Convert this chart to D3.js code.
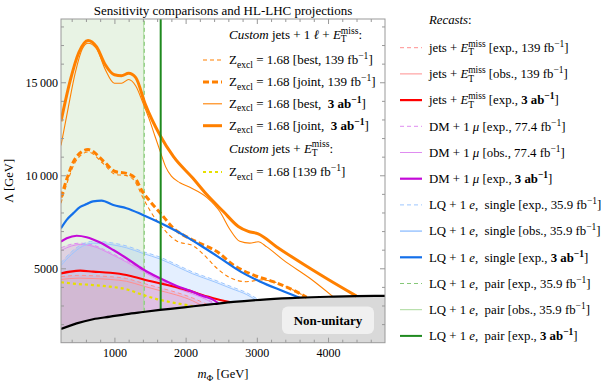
<!DOCTYPE html>
<html><head><meta charset="utf-8">
<script src="https://cdn.jsdelivr.net/npm/d3@7"></script>
<style>html,body{margin:0;padding:0;background:#fff;} text{white-space:pre;}</style>
</head><body><svg id="c" width="609" height="386"></svg>
<script>
// ---------------- DATA (m_Phi [GeV], Lambda [GeV]) ----------------
const xMajorTicks = [1000, 2000, 3000, 4000];
const yMajorTicks = [5000, 10000, 15000];

const unitarityBound = [[250,1740],[470,2040],[700,2260],[940,2400],[1170,2540],[1400,2650],[1640,2760],[1880,2860],[2110,2960],[2400,3080],[2670,3190],[3140,3330],[3600,3420],[4070,3475],[4400,3505],[4800,3520]];

const customJoint3ab = [[250,12900],[380,15100],[500,16600],[630,17250],[750,16900],[870,15950],[1000,15400],[1100,15350],[1200,15480],[1300,15250],[1430,13850],[1640,12150],[1830,11000],[2100,9850],[2300,8950],[2530,8050],[2740,7250],[2880,6980],[3020,6850],[3280,6150],[3600,5350],[3980,4450],[4400,3505]];
const customBest3ab = [[250,11600],[350,13600],[450,15500],[550,16800],[630,17100],[750,16800],[870,15700],[1000,14950],[1100,14950],[1200,15150],[1300,14800],[1400,13900],[1500,12900],[1570,12100],[1650,11200],[1720,10450],[1800,9950],[1920,9600],[2060,9350],[2300,8800],[2480,8050],[2620,7100],[2760,6450],[2900,6350],[3020,6430],[3140,6150],[3370,5450],[3750,4450],[4070,3475]];
const customJoint139 = [[250,8800],[350,10000],[450,10900],[630,11380],[850,10750],[1010,10200],[1170,10100],[1290,9850],[1390,9150],[1500,8600],[1650,7950],[1830,7150],[2060,6600],[2200,6340],[2440,5900],[2670,5180],[2950,4640],[3230,4280],[3510,3830],[3700,3435]];
const customBest139 = [[250,8500],[350,9750],[450,10700],[630,11250],[850,10600],[1010,10050],[1170,9980],[1290,9650],[1400,8800],[1500,8100],[1650,7300],[1880,6450],[2110,6200],[2250,5750],[2440,5000],[2620,4500],[2850,4280],[3050,4370],[3230,4280],[3510,3830],[3700,3435]];
const customJetsMet139 = [[250,4250],[470,4160],[700,4100],[940,4010],[1170,3870],[1400,3570],[1640,3300],[1875,3120],[2110,2960]];

const jetsMetExp139 = [[250,4550],[500,4620],[700,4600],[940,4550],[1170,4450],[1400,4200],[1640,3950],[1875,3700],[2100,3400],[2300,3060]];
const jetsMetObs139 = [[250,4400],[500,4470],[700,4450],[940,4400],[1170,4300],[1400,4050],[1640,3800],[1875,3560],[2100,3250],[2220,3010]];
const jetsMetExp3ab = [[250,4730],[380,4820],[520,4870],[700,4820],[940,4760],[1170,4640],[1400,4410],[1640,4190],[1875,3980],[2100,3740],[2200,3600],[2390,3390],[2620,3180]];

const dmMuExp77 = [[250,6100],[400,6300],[520,6350],[700,6250],[940,5850],[1170,5400],[1400,4900],[1640,4400],[1875,3980],[2100,3680],[2300,3350],[2420,3090]];
const dmMuObs77 = [[250,5950],[400,6200],[520,6280],[700,6180],[940,5780],[1170,5330],[1400,4830],[1640,4330],[1875,3920],[2100,3620],[2300,3300],[2400,3080]];
const dmMuExp3ab = [[250,6430],[330,6610],[470,6750],[610,6670],[800,6380],[985,5980],[1170,5540],[1400,4950],[1640,4460],[1875,4050],[2100,3740],[2200,3570],[2390,3300],[2460,3110]];

const lqSingleExp36 = [[250,5300],[400,5900],[550,6300],[700,6450],[900,6400],[1170,6200],[1400,5900],[1640,5600],[1900,5150],[2100,4800],[2400,4380],[2650,4000],[2860,3680],[3020,3320]];
const lqSingleObs36 = [[250,5150],[400,5750],[550,6180],[700,6350],[900,6300],[1170,6100],[1400,5800],[1640,5500],[1900,5050],[2100,4700],[2400,4280],[2650,3900],[2860,3580],[2980,3310]];
const lqSingleExp3ab = [[250,7150],[330,7600],[420,7950],[520,8300],[610,8450],[700,8600],[820,8640],[985,8400],[1170,8230],[1400,7870],[1640,7450],[1875,6990],[2060,6580],[2200,6250],[2480,5560],[2760,4850],[3050,4280],[3330,3830],[3600,3420]];

const lqPairExp36 = 1420;   // vertical mass limits
const lqPairObs36 = 1412;
const lqPairExp3ab = 1650;

const X_DOMAIN = [250, 4800];
const Y_DOMAIN = [1000, 18400];

// ---------------- SETUP ----------------
const SERIF = "'Liberation Serif','Times New Roman',Times,serif";
const W = 609, H = 386;
const M = {left: 61, right: 385, top: 19, bottom: 342.7};
const FS = 13, FSR = 12.8;
const svg = d3.select('#c');
svg.append('rect').attr('width', W).attr('height', H).attr('fill', '#fff');

const x = d3.scaleLinear().domain(X_DOMAIN).range([M.left, M.right]);
const y = d3.scaleLinear().domain(Y_DOMAIN).range([M.bottom, M.top]);
const blackAt = d3.scaleLinear().domain(unitarityBound.map(d => d[0])).range(unitarityBound.map(d => d[1]));

svg.append('clipPath').attr('id', 'clip').append('rect')
  .attr('x', M.left).attr('y', M.top).attr('width', M.right - M.left).attr('height', M.bottom - M.top);
const plot = svg.append('g').attr('clip-path', 'url(#clip)');

const line = d3.line().x(d => x(d[0])).y(d => y(d[1])).curve(d3.curveMonotoneX);
const area = d3.area().x(d => x(d[0])).y0(y(Y_DOMAIN[0])).y1(d => y(d[1])).curve(d3.curveMonotoneX);

const ORANGE = '#ff8000', YELLOW = '#e6df00', RED = '#ff0000', MAG = '#c40ad8', BLUE = '#1470ea', GREEN = '#1f8a1f';
const RED_L = '#ff8f8f', MAG_L = '#df8cf0', BLUE_L = '#9cc6ff', GREEN_L = '#86c878', GREEN_L2 = '#a9d99b';

// fills
plot.append('path').datum([[X_DOMAIN[0], Y_DOMAIN[1]], [lqPairObs36, Y_DOMAIN[1]]])
  .attr('d', d3.area().x(d => x(d[0])).y0(y(Y_DOMAIN[0])).y1(d => y(d[1])))
  .attr('fill', '#74b861').attr('fill-opacity', 0.17);
plot.append('path').datum(lqSingleExp36).attr('d', area).attr('fill', '#5a9eff').attr('fill-opacity', 0.16);
plot.append('path').datum(dmMuExp77).attr('d', area).attr('fill', '#c050d8').attr('fill-opacity', 0.2);
plot.append('path').datum(jetsMetExp139).attr('d', area).attr('fill', '#ff5a5a').attr('fill-opacity', 0.12);

// non-unitary region
plot.append('path').datum(unitarityBound).attr('d', area).attr('fill', '#d9d9d9');

function draw(data, color, w, dash) {
  plot.append('path').datum(data).attr('d', line).attr('fill', 'none')
    .attr('stroke', color).attr('stroke-width', w).attr('stroke-dasharray', dash || null)
    .attr('stroke-linejoin', 'round');
}
function vline(m, color, w, dash) {
  draw([[m, blackAt(m)], [m, Y_DOMAIN[1]]], color, w, dash);
}

// recasts (thin)
draw(jetsMetObs139, RED_L, 1);
draw(jetsMetExp139, RED_L, 1, '4,3');
draw(dmMuObs77, MAG_L, 1);
draw(dmMuExp77, MAG_L, 1, '4,3');
draw(lqSingleObs36, BLUE_L, 1);
draw(lqSingleExp36, BLUE_L, 1, '4,3');
vline(lqPairObs36, GREEN_L2, 1);
vline(lqPairExp36, GREEN_L, 1, '4,3');
// custom
draw(customJetsMet139, YELLOW, 2.2, '3,3');
draw(customBest139, ORANGE, 1.1, '4,3');
draw(customJoint139, ORANGE, 3, '6,3');
draw(customBest3ab, ORANGE, 1.1);
draw(customJoint3ab, ORANGE, 3);
// 3ab recasts
draw(jetsMetExp3ab, RED, 2.2);
draw(dmMuExp3ab, MAG, 2.2);
draw(lqSingleExp3ab, BLUE, 2.2);
vline(lqPairExp3ab, GREEN, 2);
// unitarity line
draw(unitarityBound, '#000', 2.2);

// Non-unitary label
svg.append('rect').attr('x', 282).attr('y', 306.5).attr('width', 92).attr('height', 27.5).attr('rx', 6)
  .attr('fill', '#f0f0f0');
svg.append('text').attr('x', 328).attr('y', 324.5).attr('text-anchor', 'middle')
  .attr('font-family', SERIF).attr('font-size', 13).attr('font-weight', 'bold').text('Non-unitary');

// ---------------- AXES ----------------
const xMinor = d3.range(400, 4800, 200).filter(v => !xMajorTicks.includes(v));
const yMinor = d3.range(2000, 18400, 1000).filter(v => !yMajorTicks.includes(v));
const fmt = v => v >= 10000 ? d3.format(',')(v).replace(',', '\u2009') : String(v);
const AX = '#999';
function styleAxis(g) {
  g.attr('font-family', SERIF).attr('font-size', 12);
  g.selectAll('.domain').remove();
  g.selectAll('line').attr('stroke', AX);
  g.selectAll('text').attr('fill', '#000');
}
svg.append('g').attr('transform', `translate(0,${M.bottom})`)
  .call(d3.axisBottom(x).tickValues(xMajorTicks).tickSizeInner(-5).tickSizeOuter(0).tickPadding(6).tickFormat(fmt)).call(styleAxis);
svg.append('g').attr('transform', `translate(0,${M.bottom})`)
  .call(d3.axisBottom(x).tickValues(xMinor).tickSize(-3).tickFormat('')).call(styleAxis);
svg.append('g').attr('transform', `translate(0,${M.top})`)
  .call(d3.axisTop(x).tickValues(xMajorTicks).tickSize(-5).tickFormat('')).call(styleAxis);
svg.append('g').attr('transform', `translate(0,${M.top})`)
  .call(d3.axisTop(x).tickValues(xMinor).tickSize(-3).tickFormat('')).call(styleAxis);
svg.append('g').attr('transform', `translate(${M.left},0)`)
  .call(d3.axisLeft(y).tickValues(yMajorTicks).tickSizeInner(-5).tickSizeOuter(0).tickPadding(3).tickFormat(fmt)).call(styleAxis);
svg.append('g').attr('transform', `translate(${M.left},0)`)
  .call(d3.axisLeft(y).tickValues(yMinor).tickSize(-3).tickFormat('')).call(styleAxis);
svg.append('g').attr('transform', `translate(${M.right},0)`)
  .call(d3.axisRight(y).tickValues(yMajorTicks).tickSize(-5).tickFormat('')).call(styleAxis);
svg.append('g').attr('transform', `translate(${M.right},0)`)
  .call(d3.axisRight(y).tickValues(yMinor).tickSize(-3).tickFormat('')).call(styleAxis);
svg.append('rect').attr('x', M.left).attr('y', M.top).attr('width', M.right - M.left).attr('height', M.bottom - M.top)
  .attr('fill', 'none').attr('stroke', AX).attr('stroke-width', 1);

// ---------------- RICH TEXT ----------------
function rich(sel, px, py, segs, size, anchor) {
  const t = sel.append('text').attr('x', px).attr('y', py).attr('font-size', size)
    .attr('font-family', SERIF).attr('fill', '#000');
  if (anchor) t.attr('text-anchor', anchor);
  const small = size * 0.74;
  let cur = 0;
  segs.forEach(s => {
    if (typeof s === 'string') { t.append('tspan').attr('dy', -cur).text(s); cur = 0; return; }
    if (s.sub !== undefined && s.sup !== undefined) {
      const a = t.append('tspan').attr('dy', 3.4 - cur).attr('font-size', small).text(s.sub);
      cur = 3.4;
      const wT = a.node().getComputedTextLength();
      t.append('tspan').attr('dx', -wT).attr('dy', -5.4 - cur).attr('font-size', small).text(s.sup);
      cur = -5.4;
      return;
    }
    if (s.sub !== undefined) {
      t.append('tspan').attr('dy', 3.4 - cur).attr('font-size', small).text(s.sub);
      cur = 3.4; return;
    }
    if (s.sup !== undefined) {
      const ts = t.append('tspan').attr('dy', -5 - cur).attr('font-size', small).text(s.sup);
      if (s.b) ts.attr('font-weight', 'bold');
      cur = -5; return;
    }
    if (s.i !== undefined) { t.append('tspan').attr('dy', -cur).attr('font-style', 'italic').text(s.i); cur = 0; return; }
    if (s.b !== undefined) { t.append('tspan').attr('dy', -cur).attr('font-weight', 'bold').text(s.b); cur = 0; return; }
  });
  return t;
}

// Title and axis labels
svg.append('text').attr('x', (M.left + M.right) / 2).attr('y', 15).attr('text-anchor', 'middle')
  .attr('font-family', SERIF).attr('font-size', 13).text('Sensitivity comparisons and HL-LHC projections');
rich(svg, (M.left + M.right) / 2, 378, [{i: 'm'}, {sub: 'Φ'}, ' [GeV]'], 12.5, 'middle');
svg.append('text').attr('transform', `translate(13,${(M.top + M.bottom) / 2}) rotate(-90)`).attr('text-anchor', 'middle')
  .attr('font-family', SERIF).attr('font-size', 12.5).text('Λ [GeV]');

// ---------------- INNER LEGEND ----------------
const innerTitle1 = [{i: 'Custom'}, ' jets + 1 ', {i: 'ℓ'}, ' + ', {i: 'E'}, {sub: 'T', sup: 'miss'}, ':'];
const innerTitle2 = [{i: 'Custom'}, ' jets + ', {i: 'E'}, {sub: 'T', sup: 'miss'}, ':'];
const innerLabels = [
  ['Z', {sub: 'excl'}, ' = 1.68 [best, 139 fb', {sup: '−1'}, ']'],
  ['Z', {sub: 'excl'}, ' = 1.68 [joint, 139 fb', {sup: '−1'}, ']'],
  ['Z', {sub: 'excl'}, ' = 1.68 [best,  ', {b: '3 ab'}, {sup: '−1', b: true}, ']'],
  ['Z', {sub: 'excl'}, ' = 1.68 [joint,  ', {b: '3 ab'}, {sup: '−1', b: true}, ']'],
];
const innerLabel2 = ['Z', {sub: 'excl'}, ' = 1.68 [139 fb', {sup: '−1'}, ']'];
const innerStyles = [
  {c: ORANGE, w: 1.1, d: '4,3'}, {c: ORANGE, w: 3, d: '6,3'}, {c: ORANGE, w: 1.1}, {c: ORANGE, w: 3}
];
const LG = svg.append('g');
function sample(g, x0, x1, yy, st) {
  g.append('line').attr('x1', x0).attr('x2', x1).attr('y1', yy).attr('y2', yy)
    .attr('stroke', st.c).attr('stroke-width', st.w).attr('stroke-dasharray', st.d || null);
}
rich(LG, 229, 39, innerTitle1, FS);
innerLabels.forEach((lab, i) => {
  const yy = 60 + i * 21.9;
  sample(LG, 203, 222, yy, innerStyles[i]);
  rich(LG, 229, yy + 4.2, lab, FS);
});
rich(LG, 229, 152.5, innerTitle2, FS);
sample(LG, 203, 222, 172, {c: YELLOW, w: 2.2, d: '3,3'});
rich(LG, 229, 176.2, innerLabel2, FS);

// ---------------- RIGHT LEGEND ----------------
const E = [{i: 'E'}, {sub: 'T', sup: 'miss'}];
const recastLabels = [
  ['jets + ', ...E, ' [exp., 139 fb', {sup: '−1'}, ']'],
  ['jets + ', ...E, ' [obs., 139 fb', {sup: '−1'}, ']'],
  ['jets + ', ...E, ' [exp., ', {b: '3 ab'}, {sup: '−1', b: true}, ']'],
  ['DM + 1 ', {i: 'μ'}, ' [exp., 77.4 fb', {sup: '−1'}, ']'],
  ['DM + 1 ', {i: 'μ'}, ' [obs., 77.4 fb', {sup: '−1'}, ']'],
  ['DM + 1 ', {i: 'μ'}, ' [exp., ', {b: '3 ab'}, {sup: '−1', b: true}, ']'],
  ['LQ + 1 ', {i: 'e'}, ',  single [exp., 35.9 fb', {sup: '−1'}, ']'],
  ['LQ + 1 ', {i: 'e'}, ',  single [obs., 35.9 fb', {sup: '−1'}, ']'],
  ['LQ + 1 ', {i: 'e'}, ',  single [exp., ', {b: '3 ab'}, {sup: '−1', b: true}, ']'],
  ['LQ + 1 ', {i: 'e'}, ',  pair [exp., 35.9 fb', {sup: '−1'}, ']'],
  ['LQ + 1 ', {i: 'e'}, ',  pair [obs., 35.9 fb', {sup: '−1'}, ']'],
  ['LQ + 1 ', {i: 'e'}, ',  pair [exp., ', {b: '3 ab'}, {sup: '−1', b: true}, ']'],
];
const recastStyles = [
  {c: RED_L, w: 1, d: '4,3'}, {c: RED_L, w: 1}, {c: RED, w: 2.2},
  {c: MAG_L, w: 1, d: '4,3'}, {c: MAG_L, w: 1}, {c: MAG, w: 2.2},
  {c: BLUE_L, w: 1, d: '4,3'}, {c: BLUE_L, w: 1.5}, {c: BLUE, w: 2.2},
  {c: GREEN_L, w: 1, d: '4,3'}, {c: GREEN_L2, w: 1}, {c: GREEN, w: 2},
];
rich(LG, 429, 24, [{i: 'Recasts'}, ':'], FSR);
recastLabels.forEach((lab, i) => {
  const yy = 47.7 + i * 26.2;
  sample(LG, 400, 422, yy, recastStyles[i]);
  rich(LG, 429, yy + 4.2, lab, FSR);
});
</script></body></html>
